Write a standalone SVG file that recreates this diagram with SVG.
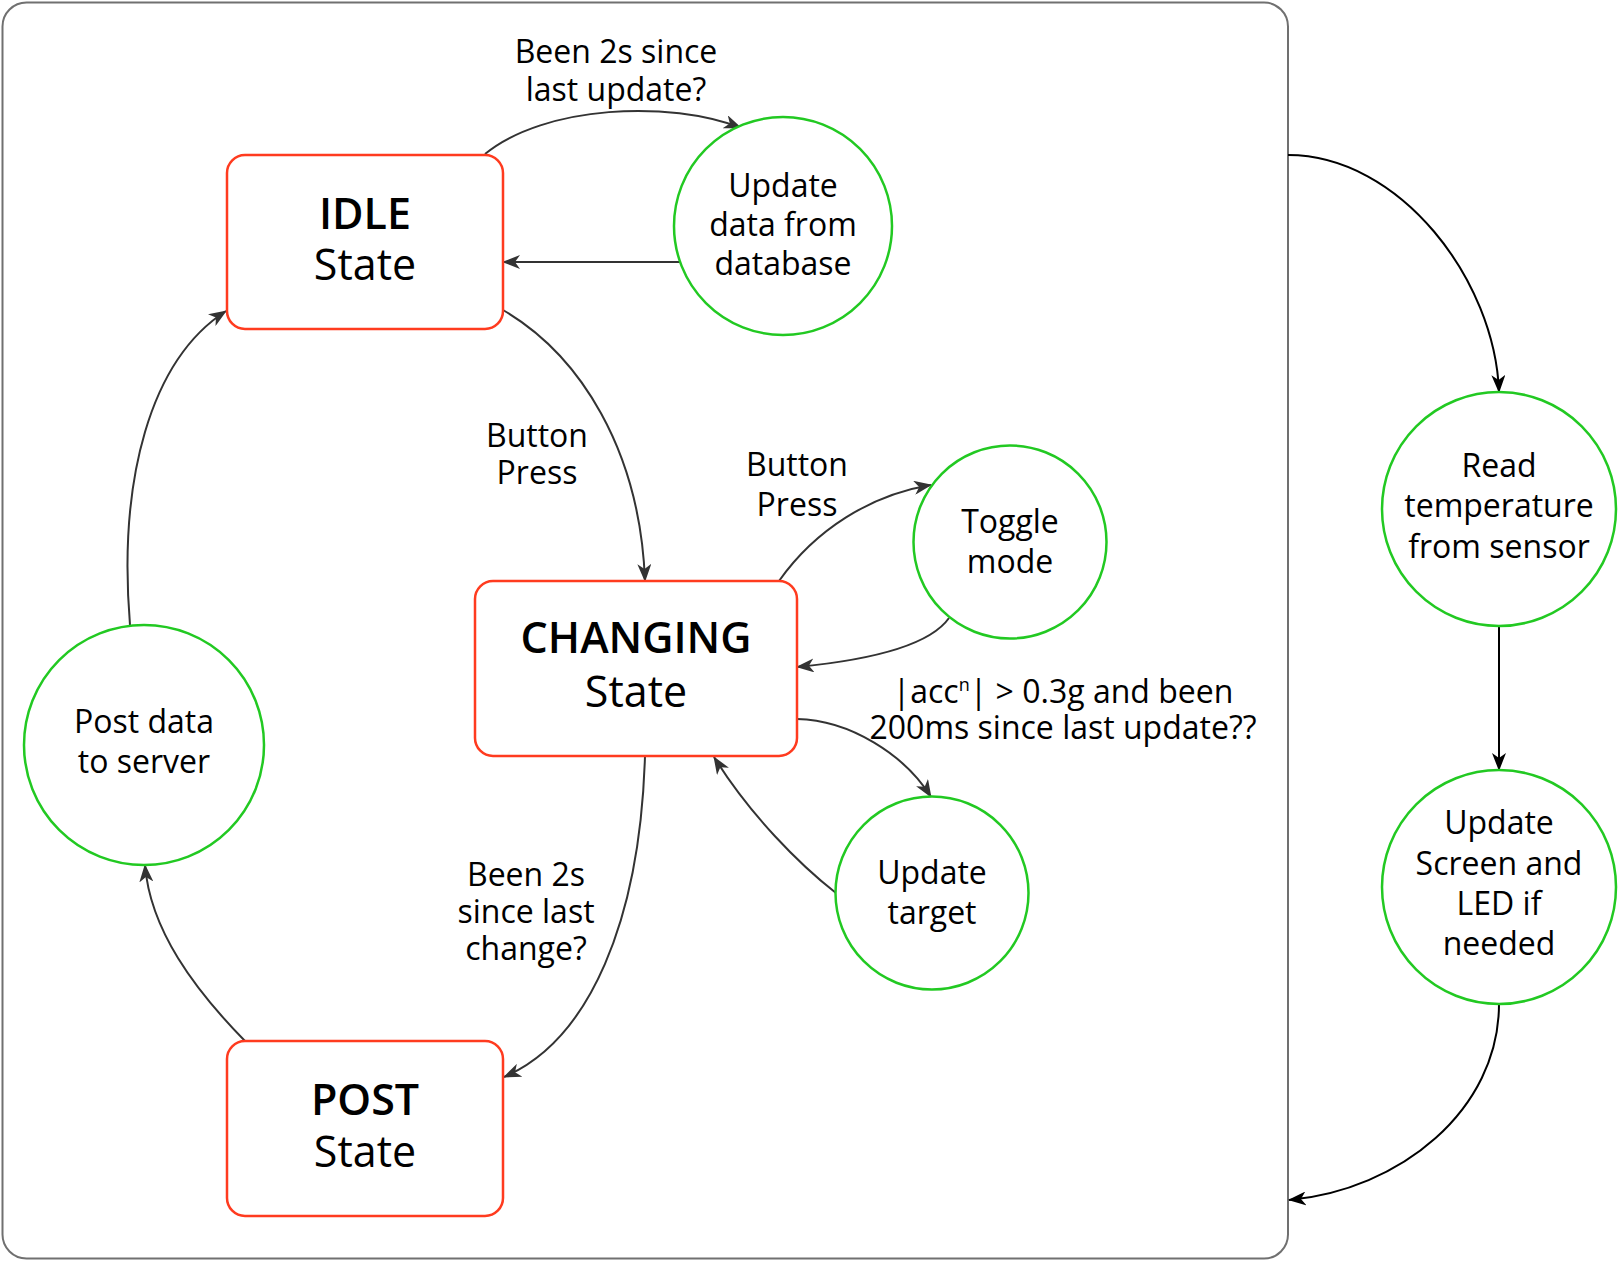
<svg xmlns="http://www.w3.org/2000/svg" width="1618" height="1262" viewBox="0 0 1618 1262">
<style>
  text { font-family: "Open Sans", "Liberation Sans", sans-serif; fill: #000; text-anchor: middle; }
  .node { font-size: 32px; }
  .lbl { font-size: 32px; }
  .st { font-size: 43px; }
  .b { font-weight: 600; }
  .state { fill: #fff; stroke: #FF3B1F; stroke-width: 2.5; }
  .proc { fill: #fff; stroke: #22C922; stroke-width: 2.5; }
  .edge { fill: none; stroke: #333; stroke-width: 2; marker-end: url(#arr); }
  .edgek { fill: none; stroke: #000; stroke-width: 2; marker-end: url(#arrk); }
</style>
<defs>
  <marker id="arr" viewBox="0 0 18 14" refX="17" refY="7" markerWidth="18" markerHeight="14" markerUnits="userSpaceOnUse" orient="auto">
    <path d="M0,0 L18,7 L0,14 L5,7 Z" fill="#333"/>
  </marker>
  <marker id="arrk" viewBox="0 0 18 14" refX="17" refY="7" markerWidth="18" markerHeight="14" markerUnits="userSpaceOnUse" orient="auto">
    <path d="M0,0 L18,7 L0,14 L5,7 Z" fill="#000"/>
  </marker>
</defs>
<rect width="1618" height="1262" fill="#fff"/>
<g id="frame">
  <rect x="2.5" y="2.5" width="1285.5" height="1256" rx="24" ry="24" fill="none" stroke="#707070" stroke-width="2"/>
</g>
<g id="connectors">
  <path class="edge" d="M485,154 C545,105 670,100 741,128"/>
  <path class="edge" d="M680,262 L503,262"/>
  <path class="edge" d="M503,310 C580,355 640,450 645,581"/>
  <path class="edge" d="M779,581 C815,530 870,495 931,485"/>
  <path class="edge" d="M949,618 C930,645 870,660 797,667"/>
  <path class="edge" d="M797,719 C850,720 905,755 931,797"/>
  <path class="edge" d="M836,893 C800,865 750,815 714,757"/>
  <path class="edge" d="M645,756 C640,920 590,1040 504,1077"/>
  <path class="edge" d="M245,1041 C195,990 150,930 145,865"/>
  <path class="edge" d="M130,625 C118,480 150,360 226,311"/>
  <path class="edgek" d="M1288,155 C1400,155 1495,280 1499,392"/>
  <path class="edgek" d="M1499,626 L1499,770"/>
  <path class="edgek" d="M1499,1004 C1499,1110 1400,1190 1289,1200"/>
  <text class="lbl" x="616" y="63">Been 2s since</text>
  <text class="lbl" x="616" y="101">last update?</text>
  <text class="lbl" x="537" y="447">Button</text>
  <text class="lbl" x="537" y="484">Press</text>
  <text class="lbl" x="797" y="476">Button</text>
  <text class="lbl" x="797" y="516">Press</text>
  <text class="lbl" x="1063" y="703">|acc<tspan font-size="18" baseline-shift="super">n</tspan>| &gt; 0.3g and been</text>
  <text class="lbl" x="1063" y="739">200ms since last update??</text>
  <text class="lbl" x="526" y="886">Been 2s</text>
  <text class="lbl" x="526" y="923">since last</text>
  <text class="lbl" x="526" y="960">change?</text>
</g>
<g id="idle">
  <rect class="state" x="227" y="155" width="276" height="174" rx="18" ry="18"/>
  <text class="st b" x="365" y="229">IDLE</text>
  <text class="st" x="365" y="280">State</text>
</g>
<g id="update-db">
  <circle class="proc" cx="783" cy="226" r="109"/>
  <text class="node" x="783" y="197">Update</text>
  <text class="node" x="783" y="236">data from</text>
  <text class="node" x="783" y="275">database</text>
</g>
<g id="changing">
  <rect class="state" x="475" y="581" width="322" height="175" rx="18" ry="18"/>
  <text class="st b" x="636" y="653">CHANGING</text>
  <text class="st" x="636" y="707">State</text>
</g>
<g id="toggle">
  <circle class="proc" cx="1010" cy="542" r="96.5"/>
  <text class="node" x="1010" y="533">Toggle</text>
  <text class="node" x="1010" y="573">mode</text>
</g>
<g id="update-target">
  <circle class="proc" cx="932" cy="893" r="96.5"/>
  <text class="node" x="932" y="884">Update</text>
  <text class="node" x="932" y="924">target</text>
</g>
<g id="post">
  <rect class="state" x="227" y="1041" width="276" height="175" rx="18" ry="18"/>
  <text class="st b" x="365" y="1115">POST</text>
  <text class="st" x="365" y="1167">State</text>
</g>
<g id="post-data">
  <circle class="proc" cx="144" cy="745" r="120"/>
  <text class="node" x="144" y="733">Post data</text>
  <text class="node" x="144" y="773">to server</text>
</g>
<g id="read-temp">
  <circle class="proc" cx="1499" cy="509" r="117"/>
  <text class="node" x="1499" y="477">Read</text>
  <text class="node" x="1499" y="517">temperature</text>
  <text class="node" x="1499" y="558">from sensor</text>
</g>
<g id="update-screen">
  <circle class="proc" cx="1499" cy="887" r="117"/>
  <text class="node" x="1499" y="834">Update</text>
  <text class="node" x="1499" y="875">Screen and</text>
  <text class="node" x="1499" y="915">LED if</text>
  <text class="node" x="1499" y="955">needed</text>
</g>
</svg>
